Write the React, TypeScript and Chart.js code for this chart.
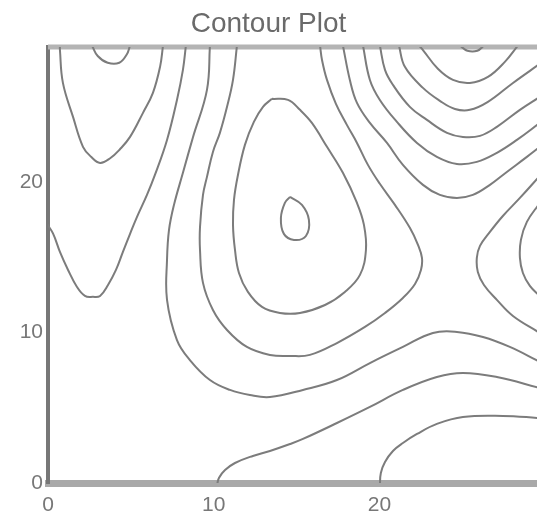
import React, { useEffect, useRef } from 'react';
import { Chart, registerables } from 'chart.js';

Chart.register(...registerables);

const chartTitle = 'Contour Plot';
const xTicks = [0, 10, 20];
const yTicks = [0, 10, 20];
const xMax = 29.5;
const yMax = 29;

type P = [number, number];

const topSmallU: P[] = [[2.65, 29.1], [3.0, 28.4], [3.6, 27.95], [4.3, 27.95], [4.75, 28.5], [4.95, 29.1]];
const innerLeftU: P[] = [[0.72, 29.1], [0.72, 28.8], [0.9, 26.61], [1.51, 24.35], [2.11, 22.36], [2.6, 21.7], [3.14, 21.29], [3.75, 21.6], [4.34, 22.2], [4.95, 23.02], [5.73, 24.62], [6.33, 25.95], [6.76, 27.68], [6.94, 29.1]];
const outerLeftU: P[] = [[-0.1, 17.3], [0.3, 16.6], [0.72, 15.37], [1.21, 14.17], [1.75, 13.04], [2.23, 12.44], [2.71, 12.38], [3.14, 12.44], [3.62, 13.17], [4.1, 14.17], [4.52, 15.37], [4.95, 16.57], [5.37, 17.7], [5.97, 19.16], [6.45, 20.49], [7.18, 22.82], [7.78, 25.48], [8.14, 27.48], [8.32, 29.1]];
const level4: P[] = [[9.77, 29.1], [9.59, 26.15], [8.75, 23.02], [8.14, 20.63], [7.6, 18.5], [7.3, 16.83], [7.18, 14.84], [7.18, 12.18], [7.78, 9.51], [8.56, 8.18], [9.77, 6.85], [10.98, 6.19], [12.18, 5.85], [13.39, 5.72], [15.38, 6.19], [17.43, 6.85], [19.42, 7.98], [21.41, 9.05], [23.22, 9.98], [24.67, 10.05], [26.24, 9.71], [27.86, 9.05], [29.6, 8.1]];
const level5: P[] = [[11.4, 29.1], [11.16, 26.81], [10.8, 25.02], [10.37, 23.29], [9.95, 22.02], [9.59, 20.36], [9.35, 19.16], [9.17, 17.03], [9.17, 15.5], [9.35, 13.31], [9.95, 11.51], [10.8, 10.18], [12.0, 9.05], [13.39, 8.52], [14.6, 8.45], [15.8, 8.52], [17.43, 9.31], [19.12, 10.38], [20.33, 11.31], [21.41, 12.31], [22.14, 13.24], [22.5, 14.17], [22.56, 14.97], [22.32, 15.84], [21.83, 16.97], [20.93, 18.5], [20.02, 19.9], [19.3, 21.16], [18.64, 22.62], [18.03, 23.82], [17.37, 25.22], [16.83, 26.81], [16.53, 28.14], [16.41, 29.1]];
const hillLoop: P[] = [[13.51, 25.55], [14.48, 25.48], [15.2, 24.82], [15.92, 23.95], [16.83, 22.36], [17.79, 20.63], [18.64, 18.63], [19.06, 17.17], [19.18, 15.5], [18.82, 13.84], [17.91, 12.71], [16.71, 11.84], [15.2, 11.31], [13.99, 11.31], [12.91, 11.71], [12.06, 12.71], [11.52, 13.97], [11.28, 15.5], [11.16, 17.17], [11.22, 18.83], [11.46, 20.49], [11.88, 22.49], [12.42, 24.02], [12.97, 25.02], [13.51, 25.55]];
const peakLoop: P[] = [[14.6, 19.03], [15.32, 18.5], [15.74, 17.5], [15.56, 16.43], [14.84, 16.17], [14.23, 16.57], [14.05, 17.63], [14.29, 18.63], [14.6, 19.03]];
const bowlB: P[] = [[17.79, 29.1], [18.21, 26.81], [18.64, 25.28], [19.42, 23.95], [20.45, 22.62], [21.41, 21.16], [22.62, 19.83], [23.64, 19.16], [24.67, 18.96], [25.63, 19.16], [26.66, 19.83], [27.68, 20.69], [28.89, 21.69], [29.67, 22.36]];
const bowlC: P[] = [[19.0, 29.1], [19.42, 26.81], [20.02, 25.48], [21.05, 24.02], [22.26, 22.62], [23.46, 21.69], [24.67, 21.22], [25.87, 21.36], [27.08, 21.96], [28.29, 22.82], [29.67, 23.95]];
const bowlD: P[] = [[20.02, 29.1], [20.33, 27.48], [20.81, 26.48], [21.83, 25.02], [22.86, 24.15], [24.07, 23.29], [25.03, 23.02], [26.06, 23.09], [27.08, 23.69], [28.47, 24.82], [29.67, 25.68]];
const bowlE: P[] = [[21.17, 29.1], [21.53, 27.68], [22.62, 26.28], [23.64, 25.42], [24.55, 24.88], [25.45, 24.82], [26.54, 25.35], [28.05, 26.61], [29.67, 27.88]];
const bowlF: P[] = [[22.38, 29.1], [22.62, 28.8], [23.52, 27.55], [24.43, 26.81], [25.45, 26.61], [26.54, 27.01], [27.56, 28.01], [28.35, 29.1]];
const bowlTip: P[] = [[24.85, 29.1], [25.3, 28.75], [25.9, 28.75], [26.3, 29.1]];
const saddleRight1: P[] = [[29.67, 20.43], [28.47, 18.96], [27.44, 17.76], [26.66, 16.7], [26.06, 15.77], [25.87, 14.97], [25.93, 14.04], [26.3, 13.17], [27.08, 12.18], [28.05, 11.11], [29.67, 9.98]];
const saddleRight2: P[] = [[29.67, 18.63], [28.89, 17.37], [28.53, 16.17], [28.47, 14.97], [28.65, 13.97], [29.07, 13.11], [29.67, 12.44]];
const valley1: P[] = [[10.19, -0.2], [10.31, 0.33], [10.68, 0.86], [11.28, 1.33], [12.36, 1.8], [13.39, 2.13], [14.6, 2.59], [15.38, 2.93], [17.43, 3.99], [19.42, 5.06], [21.41, 6.19], [23.46, 7.05], [25.03, 7.32], [27.08, 7.05], [29.67, 6.32]];
const valley2: P[] = [[20.02, -0.2], [20.08, 0.67], [20.33, 1.4], [20.81, 2.13], [21.41, 2.66], [22.26, 3.26], [23.46, 3.93], [25.03, 4.39], [27.44, 4.46], [29.67, 4.32]];

const contours: P[][] = [
  topSmallU, innerLeftU, outerLeftU, level4, level5, hillLoop, peakLoop,
  bowlB, bowlC, bowlD, bowlE, bowlF, bowlTip, saddleRight1, saddleRight2,
  valley1, valley2,
];

const topBorder = {
  id: 'topBorder',
  beforeDatasetsDraw(chart: any) {
    const { ctx, chartArea } = chart;
    ctx.save();
    ctx.strokeStyle = '#b4b4b4';
    ctx.lineWidth = 5;
    ctx.beginPath();
    ctx.moveTo(chartArea.left, chartArea.top);
    ctx.lineTo(chartArea.right, chartArea.top);
    ctx.stroke();
    ctx.restore();
  },
};

export default function App() {
  const ref = useRef<HTMLCanvasElement | null>(null);

  useEffect(() => {
    if (!ref.current) return;
    const font = 'Liberation Sans, Arial, Helvetica, sans-serif';
    const chart = new Chart(ref.current, {
      type: 'scatter',
      data: {
        datasets: contours.map((c, i) => ({
          label: 'c' + i,
          data: c.map(([x, y]) => ({ x, y })),
          showLine: true,
          borderColor: '#7c7c7c',
          borderWidth: 2,
          pointRadius: 0,
          pointHoverRadius: 0,
          tension: 0.4,
          fill: false,
          clip: 0,
        })),
      },
      plugins: [topBorder],
      options: {
        animation: false,
        responsive: false,
        devicePixelRatio: 1,
        layout: { padding: 0 },
        plugins: {
          legend: { display: false },
          tooltip: { enabled: false },
          title: {
            display: true,
            text: chartTitle,
            color: '#6a6a6a',
            font: { family: font, size: 28, weight: 'normal' },
            padding: { top: 7, bottom: 6.4 },
          },
        },
        scales: {
          x: {
            type: 'linear',
            min: 0,
            max: xMax,
            afterBuildTicks: (s: any) => { s.ticks = xTicks.map((v) => ({ value: v })); },
            afterFit: (s: any) => { s.height = 35; },
            grid: { display: false, drawTicks: false, tickLength: 0 },
            border: { display: true, color: '#a9a9a9', width: 7 },
            ticks: { color: '#777', font: { family: font, size: 21 }, padding: 10, maxRotation: 0 },
          },
          y: {
            type: 'linear',
            min: 0,
            max: yMax,
            afterBuildTicks: (s: any) => { s.ticks = yTicks.map((v) => ({ value: v })); },
            afterFit: (s: any) => { s.width = 48; },
            grid: { display: false, drawTicks: false, tickLength: 0 },
            border: { display: true, color: '#777', width: 4 },
            ticks: { color: '#777', font: { family: font, size: 21 }, padding: 5 },
          },
        },
      },
    });
    return () => chart.destroy();
  }, []);

  return (
    <div style={{ position: 'fixed', left: 0, top: 0, width: 537, height: 518, background: '#fff' }}>
      <canvas ref={ref} width={537} height={518} />
    </div>
  );
}
